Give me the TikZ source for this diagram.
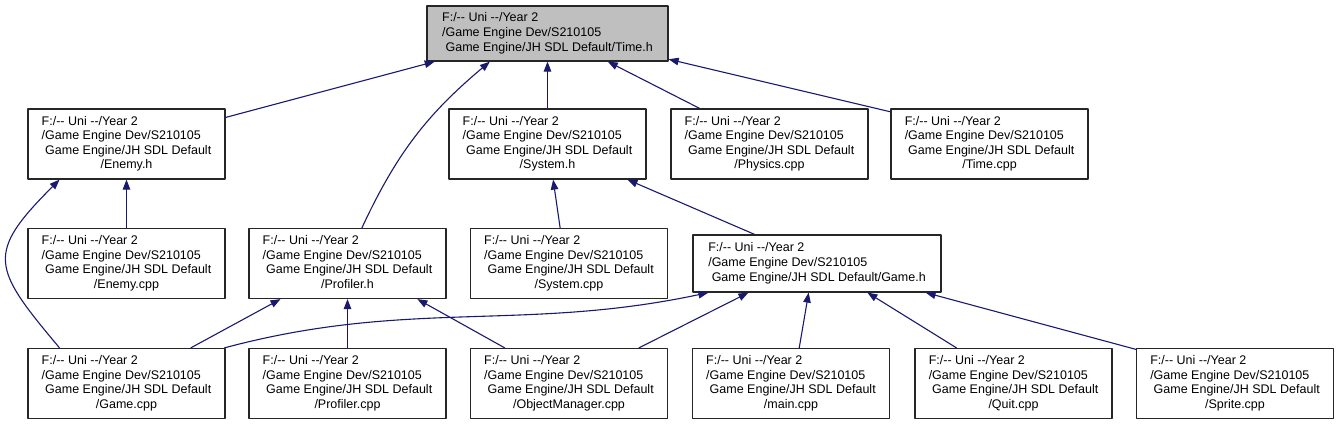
\documentclass[tikz,border=0pt]{standalone}
\usepackage{fontspec}
\setmainfont{Liberation Sans}
\usetikzlibrary{arrows.meta}
\definecolor{navy}{HTML}{191970}
\definecolor{headgray}{HTML}{BFBFBF}
% file labels: path lines left, file name centred
\newcommand{\fpath}[1]{\begin{tabular}{@{}l@{}}F:/-{}- Uni -{}-/Year 2\\/Game Engine Dev/S210105\\\ Game Engine/JH SDL Default\\\multicolumn{1}{@{}c@{}}{/#1}\end{tabular}}
\newcommand{\fpathh}[1]{\begin{tabular}{@{}l@{}}F:/-{}- Uni -{}-/Year 2\\/Game Engine Dev/S210105\\\ Game Engine/JH SDL Default/#1\end{tabular}}
\tikzset{
  every picture/.style={
    line join=round,
    >={Triangle[length=10pt,width=7.5pt]},
  },
  filebox/.style={draw=black!85, line width=1.2pt, fill=white,
    minimum width=197pt, minimum height=70pt, inner sep=0pt,
    font=\fontsize{12.5}{14.6}\selectfont},
  dep/.style={->, draw=navy, line width=1.1pt},
}
\begin{document}
\begin{tikzpicture}[x=1pt,y=1pt]
\useasboundingbox(0,0)rectangle(1337,-423);
\node[filebox,fill=headgray,minimum width=241pt,minimum height=55pt](timeh)at(547.5,-33.5){\fpathh{Time.h}};
\node[filebox](enemyh)at(126.5,-144){\fpath{Enemy.h}};
\node[filebox](systemh)at(547.5,-144){\fpath{System.h}};
\node[filebox](physicscpp)at(769.5,-144){\fpath{Physics.cpp}};
\node[filebox](timecpp)at(989.5,-144){\fpath{Time.cpp}};
\node[filebox](enemycpp)at(126.5,-263.5){\fpath{Enemy.cpp}};
\node[filebox](profilerh)at(347.5,-263.5){\fpath{Profiler.h}};
\node[filebox](systemcpp)at(569,-263.5){\fpath{System.cpp}};
\node[filebox,minimum width=248pt,minimum height=57pt](gameh)at(817,-263.5){\fpathh{Game.h}};
\node[filebox](gamecpp)at(126.5,-383.5){\fpath{Game.cpp}};
\node[filebox](profilercpp)at(347.5,-383.5){\fpath{Profiler.cpp}};
\node[filebox](objmgrcpp)at(569,-383.5){\fpath{ObjectManager.cpp}};
\node[filebox](maincpp)at(791,-383.5){\fpath{main.cpp}};
\node[filebox](quitcpp)at(1013.5,-383.5){\fpath{Quit.cpp}};
\node[filebox](spritecpp)at(1235,-383.5){\fpath{Sprite.cpp}};
\draw[dep](enemyh.15)--(timeh.194);
\draw[dep](profilerh.68)to[out=65,in=-140](timeh.206);
\draw[dep](systemh.north)--(timeh.south);
\draw[dep](physicscpp.153)--(timeh.335);
\draw[dep](timecpp.162)--(timeh.348);
\draw[dep](enemycpp.north)--(enemyh.south);
\draw[dep](gamecpp.152)to[out=130,in=-135,looseness=1.6](enemyh.208);
\draw[dep](systemcpp.104)--(systemh.279);
\draw[dep](gameh.155)--(systemh.336);
\draw[dep](gamecpp.29)--(profilerh.208);
\draw[dep](profilercpp.north)--(profilerh.south);
\draw[dep](objmgrcpp.151)--(profilerh.333);
\draw[dep](gamecpp.20)to[out=15,in=-168](gameh.195);
\draw[dep](objmgrcpp.27)--(gameh.203);
\draw[dep](maincpp.77)--(gameh.254);
\draw[dep](quitcpp.148)--(gameh.330);
\draw[dep](spritecpp.161)--(gameh.345);
\end{tikzpicture}
\end{document}
